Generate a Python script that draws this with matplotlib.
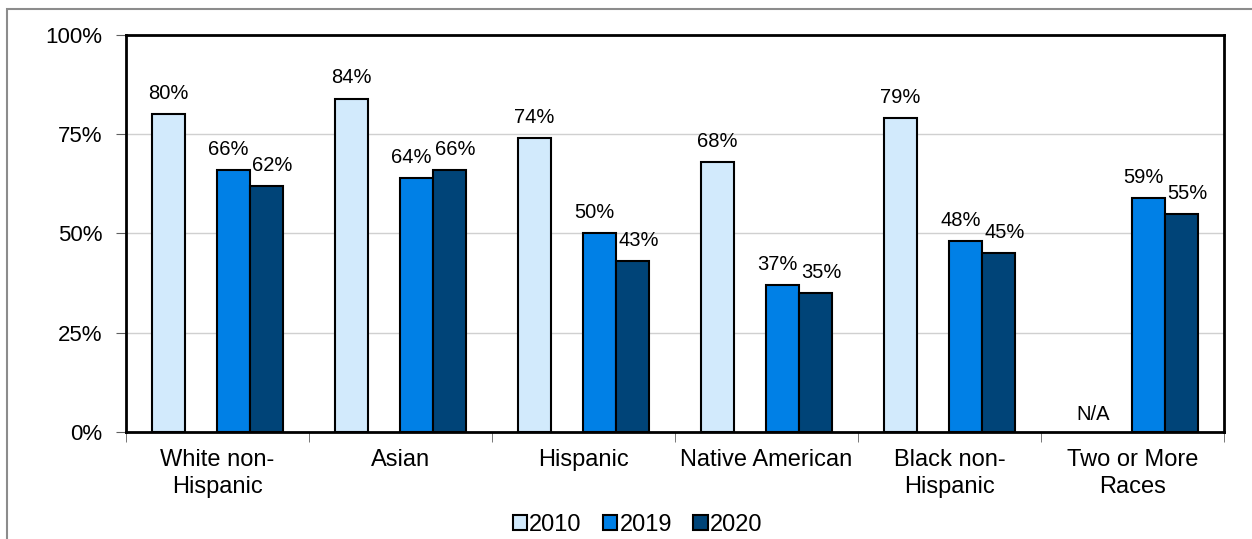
import matplotlib.pyplot as plt
from matplotlib.patches import Rectangle
import numpy as np

plt.rcParams['font.family'] = ['Liberation Sans', 'DejaVu Sans']

categories = ['White non-\nHispanic', 'Asian', 'Hispanic', 'Native American',
              'Black non-\nHispanic', 'Two or More\nRaces']
series = ['2010', '2019', '2020']
vals_2010 = [80, 84, 74, 68, 79, None]
vals_2019 = [66, 64, 50, 37, 48, 59]
vals_2020 = [62, 66, 43, 35, 45, 55]
colors = ['#D2EAFC', '#0080E6', '#004478']

fig = plt.figure(figsize=(12.52, 5.39), dpi=100)
ax = fig.add_axes([0.1006, 0.1985, 0.8770, 0.7366])

x = np.arange(len(categories))
w = 0.18
offsets = [-1.5 * w, 0.5 * w, 1.5 * w]
label_shift = [0, -4, 4]  # nudges so neighbouring labels don't collide
data = [vals_2010, vals_2019, vals_2020]

for vals, off, col, name, sh in zip(data, offsets, colors, series, label_shift):
    xs = [xi + off for xi, v in zip(x, vals) if v is not None]
    ys = [v for v in vals if v is not None]
    ax.bar(xs, ys, width=w, color=col, edgecolor='black', linewidth=1.5,
           label=name, zorder=3)
    for xi, v in zip(x, vals):
        if v is None:
            ax.annotate('N/A', (xi + off, 0), xytext=(7, 6), textcoords='offset points',
                        ha='center', va='bottom', fontsize=14.5)
        else:
            ax.annotate(f'{v}%', (xi + off, v), xytext=(sh, 8), textcoords='offset points',
                        ha='center', va='bottom', fontsize=14.5)

ax.set_xlim(-0.5, len(categories) - 0.5)
ax.set_ylim(0, 100)
ax.set_yticks([0, 25, 50, 75, 100])
ax.set_yticklabels(['0%', '25%', '50%', '75%', '100%'], fontsize=16)
ax.yaxis.grid(True, color='#D0D0D0', linewidth=1, zorder=0)
ax.set_axisbelow(True)

ax.set_xticks(x)
ax.set_xticklabels(categories, fontsize=17, linespacing=1.3)
ax.tick_params(axis='x', length=0, pad=12)
ax.set_xticks(np.arange(-0.5, len(categories)), minor=True)
ax.tick_params(axis='x', which='minor', length=7, color='#606060', direction='out')
ax.tick_params(axis='y', length=7, color='#606060', direction='out', pad=10)

for s in ax.spines.values():
    s.set_color('black')
    s.set_linewidth(2)

ax.legend(loc='upper center', bbox_to_anchor=(0.466, -0.152), ncol=3, frameon=False,
          fontsize=17, handlelength=0.6, handleheight=0.6, handletextpad=0.1,
          columnspacing=0.9)

fig.patches.append(Rectangle((7 / 1252, -0.05), 1.1, 1 - 9 / 539 + 0.05,
                             transform=fig.transFigure, fill=False,
                             edgecolor='#8C8C8C', linewidth=1.5))

fig.savefig('out.png', dpi=100)
